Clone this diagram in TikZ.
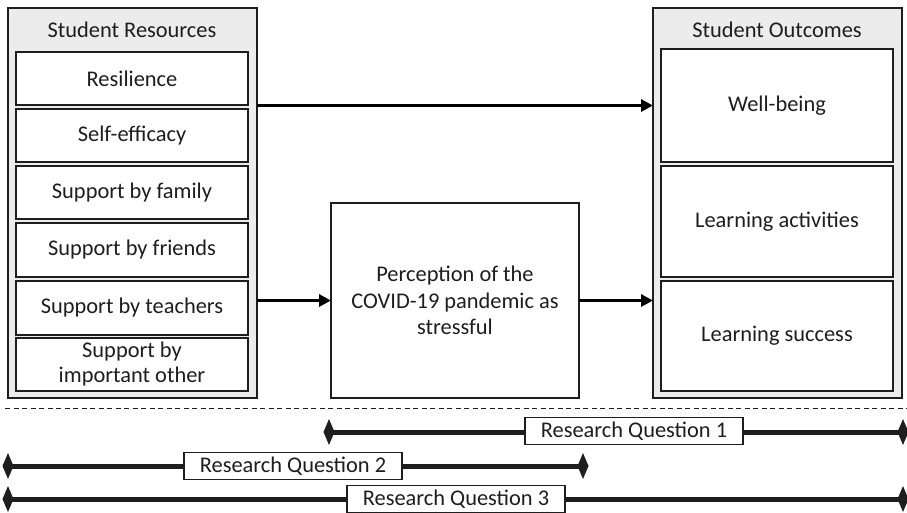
\documentclass[tikz,border=0pt]{standalone}
\usepackage{fontspec}
\setmainfont{Carlito}
\usetikzlibrary{arrows.meta}
\definecolor{panelgray}{RGB}{236,236,236}
\definecolor{ink}{RGB}{30,30,30}
\tikzset{
  panel/.style={draw=ink, line width=1.5pt, fill=panelgray, inner sep=0pt, outer sep=0pt},
  item/.style={draw=ink, line width=1.5pt, fill=white, text=ink, inner sep=0pt, outer sep=0pt, align=center, font=\fontsize{22.4}{26.5}\selectfont},
  header/.style={inner sep=0pt, text=ink, font=\fontsize{22.4}{26.5}\selectfont},
  flow/.style={line width=3.5pt, draw=black, -{Triangle[length=12pt,width=12pt]}},
  rq/.style={line width=5pt, draw=ink, {Diamond[length=11pt,width=26pt]}-{Diamond[length=11pt,width=26pt]}, shorten <=-5.5pt, shorten >=-5.5pt},
  rqlabel/.style={draw=ink, line width=1.2pt, fill=white, text=ink, inner sep=0pt, outer sep=0pt, minimum width=218pt, minimum height=27pt, font=\fontsize{22.4}{26.5}\selectfont},
}
\begin{document}
\begin{tikzpicture}[x=1pt,y=-1pt]
\useasboundingbox (0,0) rectangle (907,512);
% left panel
\node[panel, minimum width=249pt, minimum height=390pt] (resP) at (132.5,203) {};
\node[header] (resH) at (132,30) {Student Resources};
\node[item, minimum width=232pt, minimum height=53pt] (r1) at (132,78.5) {Resilience};
\node[item, minimum width=232pt, minimum height=53pt] (r2) at (132,135.5) {Self-efficacy};
\node[item, minimum width=232pt, minimum height=53pt] (r3) at (132,192.5) {Support by family};
\node[item, minimum width=232pt, minimum height=54pt] (r4) at (132,250) {Support by friends};
\node[item, minimum width=232pt, minimum height=54pt] (r5) at (132,308) {Support by teachers};
\node[item, minimum width=232pt, minimum height=53pt, font=\fontsize{22.4}{25}\selectfont] (r6) at (132,364.5) {Support by\\important other};
% right panel
\node[panel, minimum width=249pt, minimum height=390pt] (outP) at (777.5,203) {};
\node[header] (outH) at (777,30) {Student Outcomes};
\node[item, minimum width=232pt, minimum height=113pt] (o1) at (777,105.5) {Well-being};
\node[item, minimum width=232pt, minimum height=111pt] (o2) at (777,221.5) {Learning activities};
\node[item, minimum width=232pt, minimum height=110pt] (o3) at (777,336) {Learning success};
% middle
\node[item, minimum width=248pt, minimum height=195pt] (mid) at (455,300.5) {Perception of the\\COVID-19 pandemic as\\stressful};
% arrows
\draw[flow] (resP.east |- o1.west) -- (outP.west |- o1.west);
\draw[flow] (resP.east |- mid.west) -- (mid.west);
\draw[flow] (mid.east) -- (outP.west |- mid.east);
% dashed separator
\coordinate (dl) at (5,408);
\coordinate (dr) at (907,408);
\draw[ink, line width=1pt, dash pattern=on 5pt off 3.5pt] (dl) -- (dr);
% research questions
\coordinate (q1a) at (329,432);
\coordinate (q1b) at (903,432);
\coordinate (q2a) at (8,466);
\coordinate (q2b) at (583,466);
\coordinate (q3a) at (8,499);
\coordinate (q3b) at (903,499);
\draw[rq] (q1a) -- (q1b);
\draw[rq] (q2a) -- (q2b);
\draw[rq] (q3a) -- (q3b);
\node[rqlabel] (l1) at (634,431) {Research Question 1};
\node[rqlabel] (l2) at (293,466) {Research Question 2};
\node[rqlabel] (l3) at (456,499) {Research Question 3};
\end{tikzpicture}
\end{document}
